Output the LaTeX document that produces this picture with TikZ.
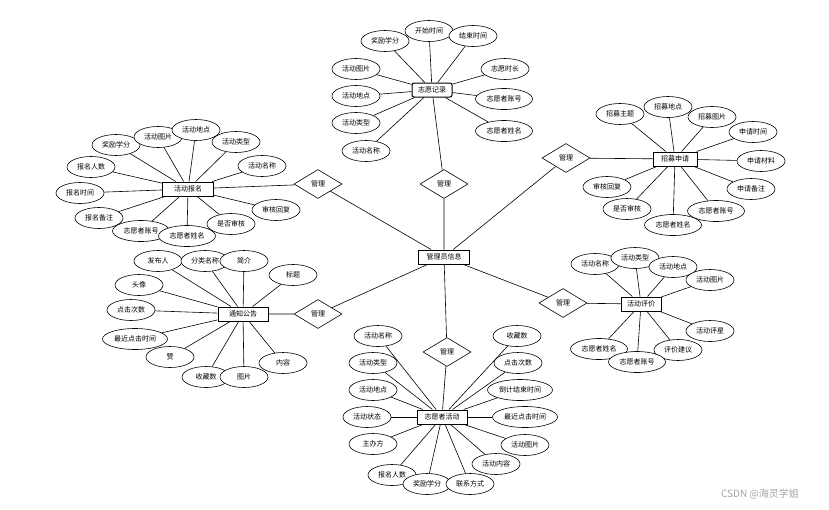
\documentclass[tikz,border=0pt]{standalone}
\usepackage{fontspec}
\newfontfamily\cjk{Noto Sans CJK SC}
\usetikzlibrary{shapes.geometric}
\tikzset{
  every node/.style={font=\cjk\fontsize{7}{8}\selectfont},
  attr/.style={ellipse,draw,fill=white,line width=0.6pt,minimum width=48pt,minimum height=21pt,inner sep=0pt},
  attrw/.style={attr,minimum width=57pt},
  attrww/.style={attr,minimum width=65pt},
  ent/.style={rectangle,draw,fill=white,line width=1pt,minimum height=14pt,inner sep=1pt},
  rel/.style={diamond,draw,fill=white,line width=0.6pt,minimum width=48pt,minimum height=29pt,inner sep=0pt},
  con/.style={line width=0.6pt}
}
\begin{document}
\begin{tikzpicture}[x=1pt,y=-1pt]
\useasboundingbox[fill=white] (0,0) rectangle (829,509);
% central
\node[ent,minimum width=51pt] (adm) at (444,257) {管理员信息};
\node[rel] (r1) at (444,184) {管理};
\node[rel] (r2) at (318,184) {管理};
\node[rel] (r3) at (318,314) {管理};
\node[rel] (r4) at (566,158) {管理};
\node[rel] (r5) at (563,303) {管理};
\node[rel] (r6) at (447,352) {管理};
% entities
\node[ent,minimum width=40pt,rounded corners=2pt] (zyjl) at (432,90) {志愿记录};
\node[ent,minimum width=51pt] (hdbm) at (188,189) {活动报名};
\node[ent,minimum width=44pt] (zmsq) at (675,159) {招募申请};
\node[ent,minimum width=50pt] (tzgg) at (243,314) {通知公告};
\node[ent,minimum width=40pt] (hdpj) at (641,304) {活动评价};
\node[ent,minimum width=50pt] (zyzhd) at (442,417) {志愿者活动};
% relation connectors
\draw[con] (zyjl) -- (r1) -- (adm);
\draw[con] (hdbm) -- (r2) -- (adm);
\draw[con] (tzgg) -- (r3) -- (adm);
\draw[con] (zmsq) -- (r4) -- (adm);
\draw[con] (hdpj) -- (r5) -- (adm);
\draw[con] (zyzhd) -- (r6) -- (adm);
% 志愿记录 attributes
\node[attr] (a1) at (385,41) {奖励学分};
\node[attr] (a2) at (429,31) {开始时间};
\node[attr] (a3) at (473,36) {结束时间};
\node[attr] (a4) at (356,69) {活动图片};
\node[attr] (a5) at (356,96) {活动地点};
\node[attr] (a6) at (356,123) {活动类型};
\node[attr] (a7) at (366,151) {活动名称};
\node[attr] (a8) at (505,69) {志愿时长};
\node[attrw] (a9) at (504,99) {志愿者账号};
\node[attrw] (a10) at (504,131) {志愿者姓名};
\foreach \i in {1,...,10} \draw[con] (zyjl) -- (a\i);
% 活动报名 attributes
\node[attr] (b1) at (116,145) {奖励学分};
\node[attr] (b2) at (158,137) {活动图片};
\node[attr] (b3) at (196,130) {活动地点};
\node[attr] (b4) at (236,142) {活动类型};
\node[attr] (b5) at (262,166) {活动名称};
\node[attr] (b6) at (91,167) {报名人数};
\node[attr] (b7) at (80,193) {报名时间};
\node[attr] (b8) at (99,218) {报名备注};
\node[attrw] (b9) at (141,231) {志愿者账号};
\node[attrw] (b10) at (187,236) {志愿者姓名};
\node[attr] (b11) at (231,224) {是否审核};
\node[attr] (b12) at (276,210) {审核回复};
\foreach \i in {1,...,12} \draw[con] (hdbm) -- (b\i);
% 招募申请 attributes
\node[attr] (c1) at (620,114) {招募主题};
\node[attr] (c2) at (668,107) {招募地点};
\node[attr] (c3) at (712,117) {招募图片};
\node[attr] (c4) at (753,132) {申请时间};
\node[attr] (c5) at (761,161) {申请材料};
\node[attr] (c6) at (751,189) {申请备注};
\node[attrw] (c7) at (716,211) {志愿者账号};
\node[attrw] (c8) at (673,225) {志愿者姓名};
\node[attr] (c9) at (627,209) {是否审核};
\node[attr] (c10) at (607,187) {审核回复};
\foreach \i in {1,...,10} \draw[con] (zmsq) -- (c\i);
% 通知公告 attributes
\node[attr] (d1) at (158,261) {发布人};
\node[attr] (d2) at (205,261) {分类名称};
\node[attr] (d3) at (244,261) {简介};
\node[attr] (d4) at (293,275) {标题};
\node[attr] (d5) at (139,285) {头像};
\node[attr] (d6) at (131,310) {点击次数};
\node[attrww] (d7) at (135,339) {最近点击时间};
\node[attr] (d8) at (170,357) {赞};
\node[attr] (d9) at (206,377) {收藏数};
\node[attr] (d10) at (244,377) {图片};
\node[attr] (d11) at (283,363) {内容};
\foreach \i in {1,...,11} \draw[con] (tzgg) -- (d\i);
% 活动评价 attributes
\node[attr] (e1) at (595,264) {活动名称};
\node[attr] (e2) at (635,258) {活动类型};
\node[attr] (e3) at (673,267) {活动地点};
\node[attr] (e4) at (710,280) {活动图片};
\node[attr] (e5) at (710,331) {活动评星};
\node[attr] (e6) at (678,350) {评价建议};
\node[attrw] (e8) at (599,349) {志愿者姓名};
\node[attrw] (e7) at (637,362) {志愿者账号};
\foreach \i in {1,...,8} \draw[con] (hdpj) -- (e\i);
% 志愿者活动 attributes
\node[attr] (f1) at (378,336) {活动名称};
\node[attr] (f2) at (373,363) {活动类型};
\node[attr] (f3) at (373,390) {活动地点};
\node[attr] (f4) at (367,417) {活动状态};
\node[attr] (f5) at (373,444) {主办方};
\node[attr] (f6) at (392,475) {报名人数};
\node[attr] (f7) at (427,484) {奖励学分};
\node[attr] (f8) at (470,484) {联系方式};
\node[attr] (f9) at (496,464) {活动内容};
\node[attr] (f10) at (525,445) {活动图片};
\node[attrww] (f11) at (525,417) {最近点击时间};
\node[attrww] (f12) at (520,390) {倒计结束时间};
\node[attr] (f13) at (518,363) {点击次数};
\node[attr] (f14) at (517,336) {收藏数};
\foreach \i in {1,...,14} \draw[con] (zyzhd) -- (f\i);
% watermark
\node[font=\cjk\fontsize{10}{12}\selectfont,text=black!35] (wm) at (760,494) {CSDN @海灵学姐};
\end{tikzpicture}
\end{document}
